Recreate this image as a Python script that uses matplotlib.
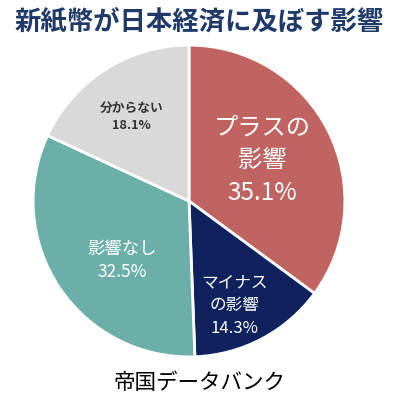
import matplotlib.pyplot as plt

plt.rcParams['font.family'] = ['Noto Sans CJK JP', 'DejaVu Sans']

# data
labels = ["プラスの\n影響", "マイナス\nの影響", "影響なし", "分からない"]
values = [35.1, 14.3, 32.5, 18.1]
colors = ["#C06462", "#10225E", "#6CAFA9", "#D9D9D9"]
text_colors = ["white", "white", "white", "#333333"]
font_sizes = [17.5, 12, 12.5, 9.2]
font_weights = ["normal", "normal", "normal", "bold"]
line_sp = [1.35, 1.45, 1.35, 1.42]
label_pos = [(0.47, 0.26), (0.29, -0.67), (-0.43, -0.38), (-0.37, 0.54)]

fig = plt.figure(figsize=(3.98, 4.19), dpi=100)
ax = fig.add_axes([0.0754, 0.1408, 0.799, 0.759])

wedges, _ = ax.pie(values, colors=colors, startangle=90, counterclock=False,
                   wedgeprops=dict(edgecolor="white", linewidth=2))
ax.set_xlim(-1.02, 1.02)
ax.set_ylim(-1.02, 1.02)
ax.set_aspect("equal")

for lab, v, (x, y), c, fs, fw, ls in zip(labels, values, label_pos, text_colors,
                                         font_sizes, font_weights, line_sp):
    ax.text(x, y, f"{lab}\n{v}%", ha="center", va="center", color=c,
            fontsize=fs, fontweight=fw, linespacing=ls)

fig.text(0.5, 0.947, "新紙幣が日本経済に及ぼす影響", ha="center", va="center",
         fontsize=19, fontweight="bold", color="#1F3A68")
fig.text(0.5, 0.086, "帝国データバンク", ha="center", va="center",
         fontsize=15.5, color="black")

fig.savefig("out.png", dpi=100)
